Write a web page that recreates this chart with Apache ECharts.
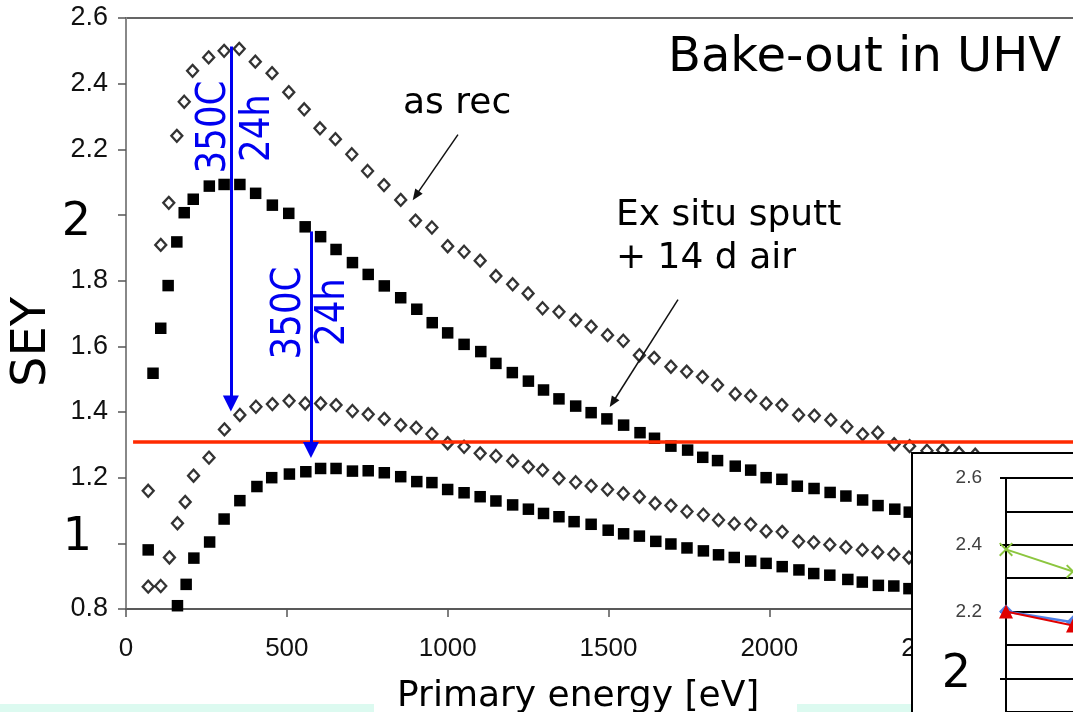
<!DOCTYPE html>
<html>
<head>
<meta charset="utf-8">
<script src="https://cdn.jsdelivr.net/npm/echarts@6/dist/echarts.min.js"></script>
<style>
html, body { margin: 0; padding: 0; background: #fff; }
#chart { width: 1073px; height: 712px; }
</style>
</head>
<body>
<div id="chart"></div>
<script>
// Secondary electron yield vs primary energy: as received / ex situ sputtered, before and after bake-out
const asRecE = [69,108,133,158,181,207,257,305,352,402,454,506,554,603,651,702,751,802,854,900,951,1000,1051,1101,1150,1202,1250,1295,1346,1398,1446,1497,1546,1596,1642,1694,1743,1792,1839,1894,1942,1990,2039,2091,2140,2191,2241,2290,2337,2388,2436,2490,2539,2590,2640];
const asRecSey = [1.16,1.909,2.037,2.241,2.345,2.439,2.48,2.50,2.506,2.467,2.432,2.374,2.322,2.264,2.231,2.185,2.134,2.091,2.046,1.983,1.962,1.905,1.888,1.861,1.814,1.789,1.761,1.716,1.705,1.68,1.66,1.634,1.617,1.573,1.565,1.538,1.523,1.507,1.482,1.455,1.449,1.426,1.421,1.391,1.389,1.376,1.355,1.332,1.337,1.302,1.296,1.282,1.284,1.275,1.27];

const exSituE = [69,84,108,131,158,181,209,259,305,354,403,455,506,557,605,653,704,753,803,854,904,952,1000,1051,1103,1150,1201,1251,1298,1346,1398,1446,1495,1547,1598,1643,1694,1746,1793,1839,1894,1942,1990,2039,2087,2139,2189,2238,2290,2338,2390,2435];
const exSituSey = [0.98,1.518,1.655,1.785,1.918,2.007,2.048,2.088,2.093,2.093,2.066,2.03,2.005,1.964,1.934,1.895,1.855,1.819,1.784,1.748,1.713,1.672,1.641,1.606,1.584,1.548,1.52,1.494,1.467,1.44,1.418,1.398,1.379,1.36,1.337,1.32,1.296,1.284,1.262,1.252,1.235,1.223,1.2,1.195,1.174,1.167,1.155,1.144,1.132,1.115,1.104,1.095];

const bakedRecE = [69,108,135,160,184,210,258,306,354,404,455,507,557,605,653,704,753,803,854,902,951,1000,1051,1101,1150,1202,1251,1295,1346,1398,1446,1497,1546,1596,1645,1694,1744,1795,1842,1891,1942,1990,2040,2091,2138,2188,2238,2289,2337,2387,2434];
const bakedRecSey = [0.868,0.87,0.957,1.061,1.126,1.206,1.261,1.347,1.391,1.416,1.424,1.434,1.426,1.426,1.421,1.403,1.393,1.379,1.36,1.352,1.333,1.305,1.294,1.274,1.266,1.251,1.233,1.223,1.198,1.186,1.175,1.164,1.152,1.142,1.122,1.115,1.097,1.087,1.071,1.06,1.058,1.037,1.035,1.006,1.003,0.996,0.988,0.98,0.973,0.967,0.957];

const bakedExE = [160,187,211,260,305,354,407,453,508,559,605,653,704,753,803,854,904,951,1000,1051,1101,1150,1202,1251,1298,1346,1393,1446,1499,1547,1596,1647,1694,1744,1795,1842,1891,1942,1990,2040,2092,2138,2188,2244,2289,2339,2387,2434];
const bakedExSey = [0.81,0.875,0.955,1.004,1.074,1.13,1.173,1.2,1.211,1.218,1.228,1.228,1.22,1.221,1.215,1.203,1.188,1.185,1.164,1.154,1.142,1.129,1.117,1.104,1.091,1.081,1.066,1.058,1.04,1.029,1.022,1.006,0.998,0.986,0.977,0.965,0.957,0.946,0.939,0.929,0.919,0.908,0.903,0.89,0.882,0.872,0.87,0.862];

// Axis ranges and ticks
const xMin = 0, xMax = 3000, xStep = 500;
const yMin = 0.8, yMax = 2.6, yStep = 0.2;
const thresholdSey = 1.31;

// Small comparison panel (bottom right)
const insetX = [0, 1];
const insetGreen = [2.386, 2.32];
const insetRed = [2.2, 2.158];
const insetBlue = [2.2, 2.168];
const insetYMin = 1.8, insetYMax = 2.6;

const zip = (a, b) => a.map((v, i) => [v, b[i]]);

const SANS = "'Liberation Sans', Arial, sans-serif";
const VERD = "'DejaVu Sans', Verdana, sans-serif";
const BLUE = '#0000f0';

const crossPath = 'path://M0,1L1,0L5,4L9,0L10,1L6,5L10,9L9,10L5,6L1,10L0,9L4,5Z';

const chart = echarts.init(document.getElementById('chart'), null, { renderer: 'canvas' });

const openDiamond = {
  type: 'scatter', symbol: 'diamond', symbolSize: [11, 12],
  itemStyle: { color: '#fff', borderColor: '#000', borderWidth: 2.3 },
  z: 3
};
const filledSquare = {
  type: 'scatter', symbol: 'rect', symbolSize: 11.5,
  itemStyle: { color: '#000', opacity: 1 },
  z: 3
};

// rotated blue bake-out labels
function bakeLabel(text, x, y) {
  return {
    type: 'text', z: 50, x: x, y: y, rotation: Math.PI / 2, scaleX: 0.89,
    style: { text: text, font: '40px ' + VERD, fill: BLUE, textAlign: 'center', textVerticalAlign: 'middle' }
  };
}

chart.setOption({
  animation: false,
  backgroundColor: '#fff',
  grid: [
    { left: 126, top: 18, width: 965, height: 591, outerBoundsMode: 'none', containLabel: false,
      show: true, borderColor: '#333', borderWidth: 1.5, backgroundColor: 'transparent' },
    { left: 1006, top: 478, width: 268, height: 267, outerBoundsMode: 'none', containLabel: false, show: false }
  ],
  xAxis: [
    {
      type: 'value', gridIndex: 0, min: xMin, max: xMax, interval: xStep,
      axisLine: { show: true, lineStyle: { color: '#555', width: 1.5 } },
      axisTick: { show: true, inside: false, length: 8, lineStyle: { color: '#555', width: 1.5 } },
      splitLine: { show: false },
      axisLabel: { margin: 27, fontFamily: SANS, fontSize: 26, color: '#111', formatter: v => String(v) }
    },
    {
      type: 'value', gridIndex: 1, min: 0, max: 4, show: false
    }
  ],
  yAxis: [
    {
      type: 'value', gridIndex: 0, min: yMin, max: yMax, interval: yStep,
      axisLine: { show: true, lineStyle: { color: '#888', width: 2 } },
      axisTick: { show: true, inside: false, length: 8, lineStyle: { color: '#555', width: 1.5 } },
      splitLine: { show: false },
      axisLabel: {
        margin: 18, fontFamily: SANS, fontSize: 27, color: '#111',
        formatter: function (v) {
          if (Math.abs(v - 2) < 1e-6) return '{b2|2}';
          if (Math.abs(v - 1) < 1e-6) return '{b1|1}';
          return v.toFixed(1);
        },
        rich: {
          b2: { fontFamily: VERD, fontSize: 46, color: '#000', padding: [16, 17, 0, 0] },
          b1: { fontFamily: VERD, fontSize: 46, color: '#000', padding: [0, 16, 11, 0] }
        }
      }
    },
    {
      type: 'value', gridIndex: 1, min: insetYMin, max: insetYMax, interval: 0.2, z: 101,
      axisLine: { show: true, lineStyle: { color: '#000', width: 2 } },
      axisTick: { show: true, inside: false, length: 6, lineStyle: { color: '#000', width: 2 } },
      splitLine: { show: true, lineStyle: { color: '#000', width: 2 } },
      minorSplitLine: { show: true, lineStyle: { color: '#000', width: 2 } },
      minorTick: { show: false, splitNumber: 2 },
      axisLabel: {
        margin: 24, fontFamily: SANS, fontSize: 19, color: '#404040',
        formatter: function (v) {
          if (Math.abs(v - 2) < 1e-6) return '{b|2}';
          return v.toFixed(1);
        },
        rich: { b: { fontFamily: VERD, fontSize: 46, color: '#000', padding: [0, 11, 6, 0] } }
      }
    }
  ],
  series: [
    Object.assign({ name: 'as rec', data: zip(asRecE, asRecSey) }, openDiamond),
    Object.assign({ name: 'Ex situ sputt + 14 d air', data: zip(exSituE, exSituSey) }, filledSquare),
    Object.assign({ name: 'as rec, 350C 24h', data: zip(bakedRecE, bakedRecSey) }, openDiamond),
    Object.assign({ name: 'Ex situ sputt, 350C 24h', data: zip(bakedExE, bakedExSey) }, filledSquare),
    {
      // annotation arrows and the threshold line
      type: 'scatter', data: [], z: 4,
      markLine: {
        silent: true, animation: false,
        label: { show: false },
        symbol: ['none', 'triangle'],
        data: [
          [{ coord: [22, thresholdSey], symbol: 'none', lineStyle: { color: '#ff2a00', width: 3.5, type: 'solid' } },
           { coord: [xMax, thresholdSey], symbol: 'none' }],
          [{ coord: [326, 2.513], symbol: 'none', lineStyle: { color: BLUE, width: 3, type: 'solid' } },
           { coord: [326, 1.426], symbol: 'triangle', symbolSize: [16, 16], itemStyle: { color: BLUE } }],
          [{ coord: [575, 1.95], symbol: 'none', lineStyle: { color: BLUE, width: 3, type: 'solid' } },
           { coord: [575, 1.284], symbol: 'triangle', symbolSize: [16, 16], itemStyle: { color: BLUE } }],
          [{ coord: [1032, 2.245], symbol: 'none', lineStyle: { color: '#111', width: 1.5, type: 'solid' } },
           { coord: [901, 2.059], symbol: 'triangle', symbolSize: [9, 11], itemStyle: { color: '#111' } }],
          [{ coord: [1716, 1.742], symbol: 'none', lineStyle: { color: '#111', width: 1.5, type: 'solid' } },
           { coord: [1513, 1.429], symbol: 'triangle', symbolSize: [9, 11], itemStyle: { color: '#111' } }]
        ]
      }
    },
    {
      type: 'line', xAxisIndex: 1, yAxisIndex: 1, z: 102,
      data: zip(insetX, insetGreen),
      symbol: crossPath, symbolSize: 14,
      lineStyle: { color: '#8cc63f', width: 2 },
      itemStyle: { color: '#8cc63f' }
    },
    {
      type: 'line', xAxisIndex: 1, yAxisIndex: 1, z: 102,
      data: zip(insetX, insetBlue),
      symbol: 'diamond', symbolSize: 14,
      lineStyle: { color: '#4f81e8', width: 2.5 },
      itemStyle: { color: '#4f81e8' }
    },
    {
      type: 'line', xAxisIndex: 1, yAxisIndex: 1, z: 103,
      data: zip(insetX, insetRed),
      symbol: 'triangle', symbolSize: 14,
      lineStyle: { color: '#e00000', width: 2 },
      itemStyle: { color: '#e00000' }
    }
  ],
  graphic: [
    { type: 'rect', z: 1, shape: { x: 0, y: 704, width: 374, height: 8 }, style: { fill: '#dcfaf0' } },
    { type: 'rect', z: 1, shape: { x: 797, y: 704, width: 115, height: 8 }, style: { fill: '#dcfaf0' } },
    { type: 'rect', z: 100, shape: { x: 912, y: 453, width: 200, height: 300 }, style: { fill: '#fff', stroke: '#000', lineWidth: 2 } },
    { type: 'text', z: 50, x: 668, y: 59, style: { text: 'Bake-out in UHV', font: '48px ' + VERD, fill: '#000', textAlign: 'left', textVerticalAlign: 'middle' } },
    { type: 'text', z: 50, x: 403, y: 104, style: { text: 'as rec', font: '36px ' + VERD, fill: '#000', textAlign: 'left', textVerticalAlign: 'middle' } },
    { type: 'text', z: 50, x: 616, y: 216, style: { text: 'Ex situ sputt', font: '36px ' + VERD, fill: '#000', textAlign: 'left', textVerticalAlign: 'middle' } },
    { type: 'text', z: 50, x: 616, y: 259, style: { text: '+ 14 d air', font: '36px ' + VERD, fill: '#000', textAlign: 'left', textVerticalAlign: 'middle' } },
    { type: 'text', z: 50, x: 33, y: 342, rotation: Math.PI / 2, style: { text: 'SEY', font: '48px ' + VERD, fill: '#000', textAlign: 'center', textVerticalAlign: 'middle' } },
    { type: 'text', z: 50, x: 397, y: 697, style: { text: 'Primary energy [eV]', font: '36px ' + VERD, fill: '#000', textAlign: 'left', textVerticalAlign: 'middle' } },
    bakeLabel('350C', 215, 127),
    bakeLabel('24h', 259, 128),
    bakeLabel('350C', 290, 313),
    bakeLabel('24h', 334, 312)
  ]
});
</script>
</body>
</html>
